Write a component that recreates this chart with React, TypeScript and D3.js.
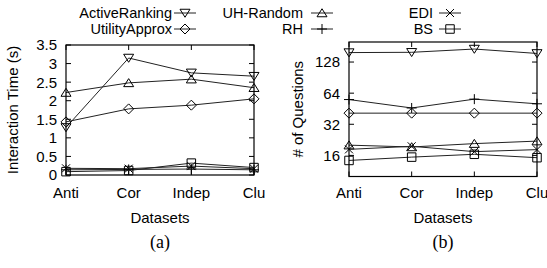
import * as d3 from 'd3'

// Categories along the x axis of both panels
const categories = ['Anti', 'Cor', 'Indep', 'Clu']

// Series, in legend order
const seriesNames = ['ActiveRanking', 'UtilityApprox', 'UH-Random', 'RH', 'EDI', 'BS']
const markers = ['tridown', 'diamond', 'triup', 'plus', 'cross', 'square']

// (a) interaction time in seconds
const timeActiveRanking = [1.28, 3.15, 2.75, 2.66]
const timeUtilityApprox = [1.43, 1.78, 1.88, 2.05]
const timeUHRandom = [2.22, 2.48, 2.58, 2.35]
const timeRH = [0.14, 0.15, 0.16, 0.14]
const timeEDI = [0.18, 0.17, 0.24, 0.17]
const timeBS = [0.09, 0.12, 0.32, 0.2]

// (b) number of questions (log2 axis)
const qActiveRanking = [158, 159, 171, 155]
const qUtilityApprox = [41, 41, 41, 41]
const qUHRandom = [20.1, 19.3, 20.8, 22]
const qRH = [55.5, 46, 56, 50.5]
const qEDI = [18.3, 19.6, 17.4, 18.2]
const qBS = [14.3, 15.4, 16.4, 15.2]

const timeTicks = [0, 0.5, 1, 1.5, 2, 2.5, 3, 3.5]
const questionTicks = [16, 32, 64, 128]

const timeSeries = [timeActiveRanking, timeUtilityApprox, timeUHRandom, timeRH, timeEDI, timeBS]
const questionSeries = [qActiveRanking, qUtilityApprox, qUHRandom, qRH, qEDI, qBS]

const FONT = "'Liberation Sans', Arial, sans-serif"
const INK = '#000'
const LINE = '#222'

function markerPath(kind: string, x: number, y: number, r: number) {
  const p = d3.path()
  if (kind === 'tridown') {
    p.moveTo(x - r, y - r * 0.75); p.lineTo(x + r, y - r * 0.75); p.lineTo(x, y + r * 0.85); p.closePath()
  } else if (kind === 'triup') {
    p.moveTo(x - r, y + r * 0.75); p.lineTo(x + r, y + r * 0.75); p.lineTo(x, y - r * 0.85); p.closePath()
  } else if (kind === 'diamond') {
    p.moveTo(x, y - r); p.lineTo(x + r, y); p.lineTo(x, y + r); p.lineTo(x - r, y); p.closePath()
  } else if (kind === 'square') {
    const s = r * 0.85
    p.rect(x - s, y - s, 2 * s, 2 * s)
  } else if (kind === 'plus') {
    p.moveTo(x - r, y); p.lineTo(x + r, y); p.moveTo(x, y - r); p.lineTo(x, y + r)
  } else if (kind === 'cross') {
    const s = r * 0.8
    p.moveTo(x - s, y - s); p.lineTo(x + s, y + s); p.moveTo(x - s, y + s); p.lineTo(x + s, y - s)
  }
  return p.toString()
}

type PanelProps = {
  x0: number
  x1: number
  yTop: number
  yBot: number
  yScale: d3.ScaleContinuousNumeric<number, number>
  ticks: number[]
  series: number[][]
  yTitle: string
  yTitleX: number
  caption: string
  tickLabelX: number
}

function Panel({ x0, x1, yTop, yBot, yScale, ticks, series, yTitle, yTitleX, caption, tickLabelX }: PanelProps) {
  const x = d3.scalePoint<string>().domain(categories).range([x0, x1])
  const line = d3
    .line<number>()
    .x((_, i) => x(categories[i]) as number)
    .y((v) => yScale(v))
  const tl = 5
  const cx = (x0 + x1) / 2
  return (
    <g>
      {/* y ticks, mirrored */}
      {ticks.map((t) => (
        <g key={t}>
          <line x1={x0} x2={x0 + tl} y1={yScale(t)} y2={yScale(t)} stroke={INK} />
          <line x1={x1} x2={x1 - tl} y1={yScale(t)} y2={yScale(t)} stroke={INK} />
          <text x={tickLabelX} y={yScale(t)} dy="0.36em" textAnchor="end" fontSize={15} fontFamily={FONT} fill={INK}>
            {t}
          </text>
        </g>
      ))}
      {/* x ticks, mirrored */}
      {categories.map((c) => (
        <g key={c}>
          <line x1={x(c)} x2={x(c)} y1={yBot} y2={yBot - tl} stroke={INK} />
          <line x1={x(c)} x2={x(c)} y1={yTop} y2={yTop + tl} stroke={INK} />
          <text x={x(c)} y={198} textAnchor="middle" fontSize={15} fontFamily={FONT} fill={INK}>
            {c}
          </text>
        </g>
      ))}
      {/* series */}
      {series.map((vals, si) => (
        <g key={si}>
          <path d={line(vals) || ''} fill="none" stroke={LINE} strokeWidth={1} />
          {vals.map((v, i) => (
            <path
              key={i}
              d={markerPath(markers[si], x(categories[i]) as number, yScale(v), 5)}
              fill="none"
              stroke={INK}
              strokeWidth={1}
            />
          ))}
        </g>
      ))}
      <rect x={x0} y={yTop} width={x1 - x0} height={yBot - yTop} fill="none" stroke={INK} strokeWidth={1.2} />
      <text x={cx} y={223} textAnchor="middle" fontSize={15} fontFamily={FONT} fill={INK}>
        Datasets
      </text>
      <text
        transform={`translate(${yTitleX},${(yTop + yBot) / 2}) rotate(-90)`}
        textAnchor="middle"
        fontSize={15}
        fontFamily={FONT}
        fill={INK}
      >
        {yTitle}
      </text>
      <text x={cx} y={248} textAnchor="middle" fontSize={18} fontFamily="'Liberation Serif', 'DejaVu Serif', serif" fill={INK}>
        {caption}
      </text>
    </g>
  )
}

export default function App() {
  const yTime = d3.scaleLinear().domain([0, 3.5]).range([175, 45])
  const yQ = d3.scaleLog().base(2).domain([10, 200]).range([176.5, 42])

  // legend: three columns of two rows
  const legendCols = [
    { textEnd: 172, mark: 185 },
    { textEnd: 303, mark: 322 },
    { textEnd: 433, mark: 450 },
  ]
  const legendRows = [13, 29]

  return (
    <div style={{ position: 'fixed', left: 0, top: 0, width: 547, height: 268, background: '#fff' }}>
      <svg width={547} height={268} style={{ display: 'block' }}>
        <rect width={547} height={268} fill="#fff" />
        {seriesNames.map((name, i) => {
          const col = legendCols[Math.floor(i / 2)]
          const y = legendRows[i % 2]
          return (
            <g key={name}>
              <text x={col.textEnd} y={y} dy="0.36em" textAnchor="end" fontSize={14.5} fontFamily={FONT} fill={INK}>
                {name}
              </text>
              <line x1={col.mark - 11} x2={col.mark + 11} y1={y} y2={y} stroke={LINE} />
              <path d={markerPath(markers[i], col.mark, y, 5)} fill="none" stroke={INK} />
            </g>
          )
        })}
        <Panel
          x0={66}
          x1={254}
          yTop={45}
          yBot={175}
          yScale={yTime}
          ticks={timeTicks}
          series={timeSeries}
          yTitle="Interaction Time (s)"
          yTitleX={18}
          caption="(a)"
          tickLabelX={57}
        />
        <Panel
          x0={349}
          x1={537}
          yTop={42}
          yBot={176.5}
          yScale={yQ}
          ticks={questionTicks}
          series={questionSeries}
          yTitle="# of Questions"
          yTitleX={303}
          caption="(b)"
          tickLabelX={340}
        />
      </svg>
    </div>
  )
}
